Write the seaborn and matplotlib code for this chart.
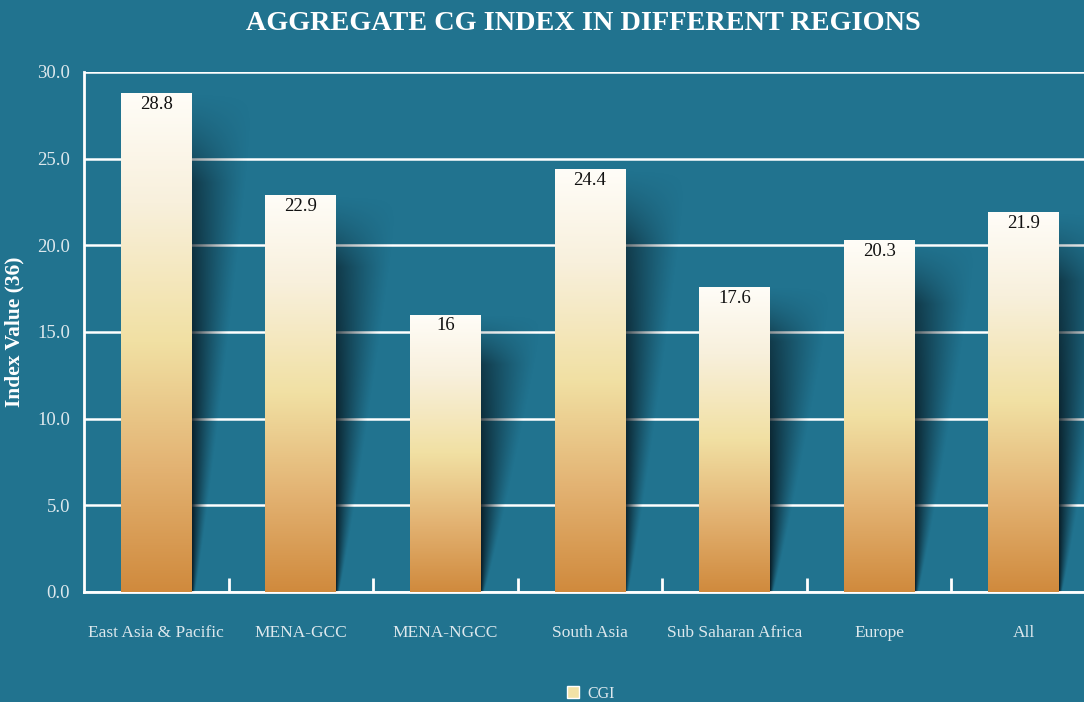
import numpy as np
import pandas as pd
import seaborn as sns
import matplotlib as mpl
import matplotlib.pyplot as plt
from matplotlib.colors import LinearSegmentedColormap
from matplotlib.patches import Patch
mpl.use('Agg')


regions = [
    'East Asia & Pacific',
    'MENA-GCC',
    'MENA-NGCC',
    'South Asia',
    'Sub Saharan Africa',
    'Europe',
    'All']
cgi = [28.8, 22.9, 16, 24.4, 17.6, 20.3, 21.9]
yticks = [0, 5, 10, 15, 20, 25, 30]

bg = '#21738f'
txt = '#dde8ed'

sns.set_style('white')
plt.rcParams['font.family'] = ['Liberation Serif', 'DejaVu Serif']

df = pd.DataFrame({'region': regions, 'CGI': cgi})

fig = plt.figure(figsize=(10.84, 7.02), dpi=100, facecolor=bg)
ax = fig.add_axes([84 / 1084, 110 / 702, 1012 / 1084, 520 / 702])
ax.set_facecolor(bg)

sns.barplot(data=df, x='region', y='CGI', width=0.49, ax=ax,
            color='#f2e2a6', zorder=3)

# bar gradient: white top -> pale yellow -> orange bottom
grad = LinearSegmentedColormap.from_list(
    'cg', [(0, '#d08a3d'), (0.25, '#e3b373'), (0.5, '#f1e0a3'),
           (0.78, '#f8f0dc'), (1, '#fffdf8')])
vgrad = np.linspace(0, 1, 256).reshape(-1, 1)

# shadow alpha field (t: 0 bottom -> 1 top, d: distance right of bar)
nx, ny = 160, 240
sw = 0.5
d = np.linspace(0, sw, nx)
t = np.linspace(0, 1, ny).reshape(-1, 1)
reach = 0.02 + 0.42 * t ** 0.9
edge = 0.92 * (1 - 0.5 * t ** 2)
alpha = edge * np.clip(1 - d / reach, 0, 1) ** 1.2
alpha *= np.clip((1 - t) / 0.18, 0, 1) ** 1.2
shade = np.zeros((ny, nx, 4))
shade[..., :3] = (0.03, 0.09, 0.12)
shade[..., 3] = alpha

for p, v in zip(ax.patches, cgi):
    x0, w = p.get_x(), p.get_width()
    xr = x0 + w
    ax.imshow(shade, extent=[xr, xr + sw, 0, v], origin='lower',
              aspect='auto', zorder=2, interpolation='bilinear')
    im = ax.imshow(vgrad, extent=[x0, xr, 0, v], origin='lower',
                   cmap=grad, aspect='auto', zorder=3.5)
    im.set_clip_path(p)
    p.set_facecolor('none')
    p.set_edgecolor('none')
    ax.annotate(f'{v:g}', (x0 + w / 2, v), xytext=(0, -2),
                textcoords='offset points', ha='center', va='top',
                fontsize=13.5, color='#111111', zorder=5)

ax.set_xlim(-0.5, len(regions) - 0.5)
ax.set_ylim(0, 30)

ax.set_yticks(yticks)
ax.set_yticklabels([f'{t:.1f}' for t in yticks])
ax.yaxis.grid(True, color='white', linewidth=1.8, zorder=1)
ax.set_axisbelow(True)

ax.set_xticks(range(len(regions)))
ax.set_xticklabels(regions)
ax.set_xticks(np.arange(len(regions)) + 0.5, minor=True)
ax.tick_params(axis='x', which='major', bottom=False, length=0, pad=24,
               labelsize=12.5, labelcolor=txt)
ax.tick_params(axis='x', which='minor', bottom=True, direction='in',
               length=10, width=2, color='white')
ax.tick_params(axis='y', length=0, pad=10, labelsize=13.5, labelcolor=txt)

for s in ['top', 'right']:
    ax.spines[s].set_visible(False)
for s in ['left', 'bottom']:
    ax.spines[s].set_color('white')
    ax.spines[s].set_linewidth(2)

ax.set_xlabel('')
ax.set_ylabel('Index Value (36)', fontsize=15.5, fontweight='bold',
              color='white', labelpad=9)

fig.suptitle('AGGREGATE CG INDEX IN DIFFERENT REGIONS', x=0.538, y=0.985,
             fontsize=20.3, fontweight='bold', color='white')

fig.legend(handles=[Patch(facecolor='#f2e2a6', label='CGI')],
           loc='lower center', bbox_to_anchor=(0.545, -0.02), frameon=False,
           fontsize=11.5, labelcolor=txt, handlelength=0.8, handleheight=0.8,
           handletextpad=0.5)

fig.savefig('out.png', dpi=100, facecolor=bg)
